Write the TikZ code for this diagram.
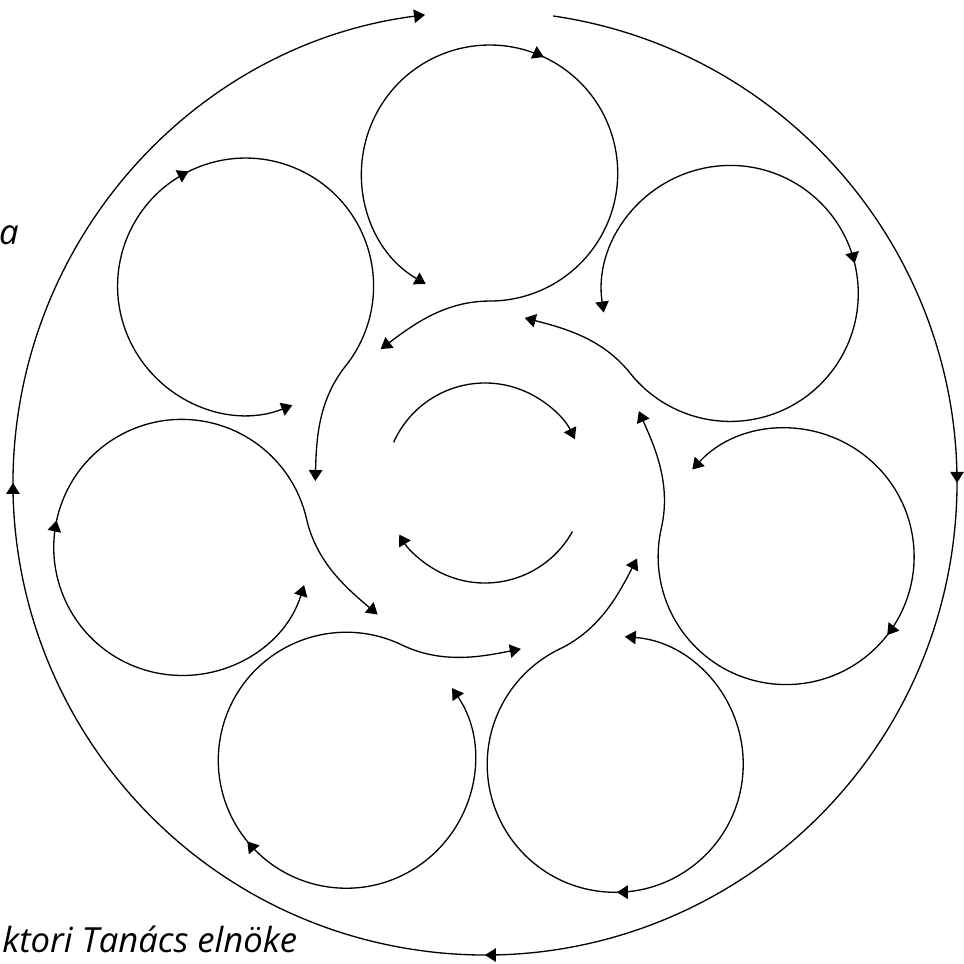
\documentclass[tikz,border=0pt]{standalone}
\usepackage{fontspec}
\setmainfont{Open Sans}
\usetikzlibrary{arrows.meta,decorations.markings}

\begin{document}
\begin{tikzpicture}[x=0.02cm, y=0.02cm,
  >={Triangle[length=0.22cm,width=0.27cm]},
  flow/.style={line width=0.75pt, draw=black},
  midarrows/.style={postaction={decorate, decoration={markings, #1}}},
  textbit/.style={font=\fontsize{19.7}{24}\selectfont\itshape, inner sep=0pt},
  ring/.pic={
    \draw[flow, <->, midarrows={mark=at position 7.82cm with {\arrow{>}}}]
      (240:128) arc[start angle=240, end angle=-90, radius=128]
      .. controls +(-45,0) and +(32,24) .. (-109,-176);
  }]
\useasboundingbox (-485,-481) rectangle (479,483);
% outer loop
\draw[flow, ->, midarrows={mark=at position 0.2372 with {\arrow{>}}, mark=at position 0.4986 with {\arrow{>}}, mark=at position 0.7599 with {\arrow{>}}}]
  (81.7:472) arc[start angle=81.7, end angle=-262.7, radius=472];
% seven rings
\pic[rotate=-51.43] at (37.70:310) {ring};
\pic[rotate=0] at (89.13:310) {ring};
\pic[rotate=51.43] at (140.56:310) {ring};
\pic[rotate=102.86] at (191.99:310) {ring};
\pic[rotate=154.29] at (243.42:310) {ring};
\pic[rotate=205.71] at (294.84:310) {ring};
\pic[rotate=257.14] at (346.27:310) {ring};
% centre
\draw[flow, ->] (156:100) arc[start angle=156, end angle=26, radius=100];
\draw[flow, ->] (-29:100) arc[start angle=-29, end angle=-149, radius=100];
% text
\node[textbit, anchor=base east] (tail) at (-466,238) {a};
\node[textbit, anchor=base west] (caption) at (-483,-469) {ktori Tanács elnöke};
\end{tikzpicture}
\end{document}
